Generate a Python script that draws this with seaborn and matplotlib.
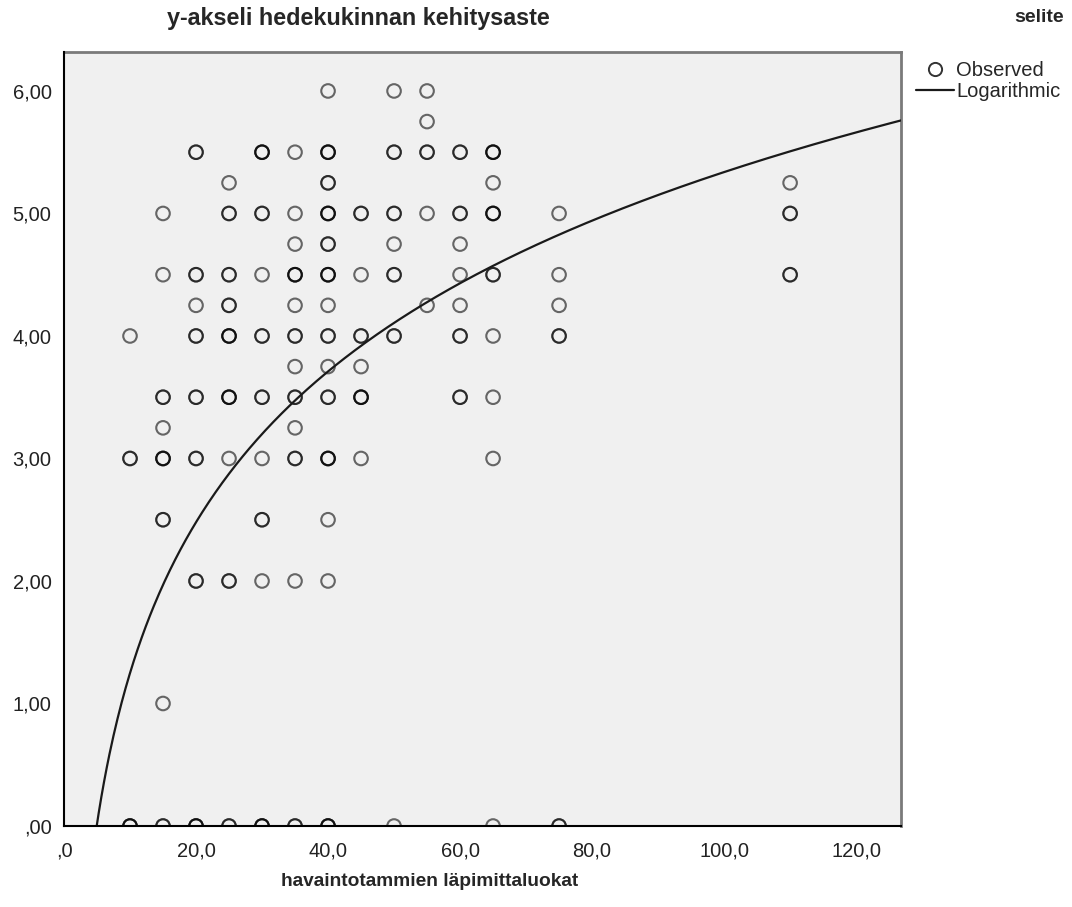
import numpy as np
import pandas as pd
import matplotlib
matplotlib.use("Agg")
import matplotlib.pyplot as plt
from matplotlib.lines import Line2D
import seaborn as sns

# ---------------- data ----------------
# x class, y value, number of overlapping observations (darkness)
obs_x = [
    40, 50, 55,
    55,
    20, 30, 35, 40, 50, 55, 60, 65,
    25, 40, 65,
    15, 25, 30, 35, 40, 45, 50, 55, 60, 65, 75,
    35, 40, 50, 60,
    15, 20, 25, 30, 35, 40, 45, 50, 60, 65, 75,
    20, 25, 35, 40, 55, 60, 75,
    10, 20, 25, 30, 35, 40, 45, 50, 60, 65, 75,
    35, 40, 45,
    15, 20, 25, 30, 35, 40, 45, 60, 65,
    15, 35,
    10, 15, 20, 25, 30, 35, 40, 45, 65,
    15, 30, 40,
    20, 25, 30, 35, 40,
    15,
    10, 15, 20, 25, 30, 35, 40, 50, 65, 75,
    110, 110, 110,
]
obs_y = [
    6.0, 6.0, 6.0,
    5.75,
    5.5, 5.5, 5.5, 5.5, 5.5, 5.5, 5.5, 5.5,
    5.25, 5.25, 5.25,
    5.0, 5.0, 5.0, 5.0, 5.0, 5.0, 5.0, 5.0, 5.0, 5.0, 5.0,
    4.75, 4.75, 4.75, 4.75,
    4.5, 4.5, 4.5, 4.5, 4.5, 4.5, 4.5, 4.5, 4.5, 4.5, 4.5,
    4.25, 4.25, 4.25, 4.25, 4.25, 4.25, 4.25,
    4.0, 4.0, 4.0, 4.0, 4.0, 4.0, 4.0, 4.0, 4.0, 4.0, 4.0,
    3.75, 3.75, 3.75,
    3.5, 3.5, 3.5, 3.5, 3.5, 3.5, 3.5, 3.5, 3.5,
    3.25, 3.25,
    3.0, 3.0, 3.0, 3.0, 3.0, 3.0, 3.0, 3.0, 3.0,
    2.5, 2.5, 2.5,
    2.0, 2.0, 2.0, 2.0, 2.0,
    1.0,
    0.0, 0.0, 0.0, 0.0, 0.0, 0.0, 0.0, 0.0, 0.0, 0.0,
    5.25, 5.0, 4.5,
]
obs_n = [
    1, 1, 1,
    1,
    2, 3, 1, 3, 2, 2, 2, 3,
    1, 2, 1,
    1, 2, 2, 1, 3, 2, 2, 1, 2, 3, 1,
    1, 2, 1, 1,
    1, 2, 2, 1, 3, 3, 1, 2, 1, 2, 1,
    1, 2, 1, 1, 1, 1, 1,
    1, 2, 3, 2, 2, 2, 2, 2, 2, 1, 2,
    1, 1, 1,
    2, 2, 3, 2, 2, 2, 3, 2, 1,
    1, 1,
    2, 3, 2, 1, 1, 2, 3, 1, 1,
    2, 2, 1,
    2, 2, 1, 1, 1,
    1,
    3, 2, 3, 2, 3, 2, 3, 1, 1, 2,
    1, 2, 2,
]

# logarithmic fit  y = b0 + b1 * ln(x)  (coefficients)
fit_b0 = -2.841
fit_b1 = 1.776

x_ticks = [0, 20, 40, 60, 80, 100, 120]
x_tick_labels = [",0", "20,0", "40,0", "60,0", "80,0", "100,0", "120,0"]
y_ticks = [0, 1, 2, 3, 4, 5, 6]
y_tick_labels = [",00", "1,00", "2,00", "3,00", "4,00", "5,00", "6,00"]

y_title = "y-akseli hedekukinnan kehitysaste"
x_title = "havaintotammien läpimittaluokat"
legend_title = "selite"
legend_labels = ["Observed", "Logarithmic"]

# ---------------- figure ----------------
sns.set_style("white")
plt.rcParams["font.family"] = ["Liberation Sans", "DejaVu Sans"]
bold_family = ["Liberation Sans Narrow", "Liberation Sans", "DejaVu Sans"]

W, H = 1072, 907
fig = plt.figure(figsize=(W / 100, H / 100), dpi=100)
L, R, T, B = 64, 901, 52, 826
ax = fig.add_axes([L / W, 1 - B / H, (R - L) / W, (B - T) / H])
ax.set_facecolor("#F0F0F0")

df = pd.DataFrame({"x": obs_x, "y": obs_y, "n": obs_n})
df = df.loc[df.index.repeat(df["n"])].reset_index(drop=True)

sns.scatterplot(data=df, x="x", y="y", ax=ax, marker="o", s=95,
                facecolor="none", edgecolor=(0, 0, 0, 0.58), linewidth=1.5,
                legend=False, zorder=3)

xmin, xmax = 0, 126.8
ymin, ymax = 0, 6.318
xc = np.linspace(np.exp(-fit_b0 / fit_b1) * 0.98, xmax, 600)
yc = fit_b0 + fit_b1 * np.log(xc)
sns.lineplot(x=xc, y=yc, ax=ax, color="#1a1a1a", linewidth=1.6,
             sort=False, estimator=None, zorder=4)

ax.set_xlim(xmin, xmax)
ax.set_ylim(ymin, ymax)
ax.set_xticks(x_ticks)
ax.set_xticklabels(x_tick_labels)
ax.set_yticks(y_ticks)
ax.set_yticklabels(y_tick_labels)
ax.set_xlabel("")
ax.set_ylabel("")
ax.tick_params(axis="both", direction="out", length=8, width=1.5,
               color="black", labelsize=14.5, labelcolor="#222222", pad=1)
ax.tick_params(axis="x", pad=3)

for side in ["left", "bottom"]:
    ax.spines[side].set_color("black")
    ax.spines[side].set_linewidth(1.5)
    ax.spines[side].set_zorder(5)
for side in ["top", "right"]:
    ax.spines[side].set_color("#7a7a7a")
    ax.spines[side].set_linewidth(2.0)

fig.text(358 / W, 1 - 18 / H, y_title, ha="center", va="center",
         fontsize=16.8, fontweight="bold", family=bold_family)
fig.text(430 / W, 1 - 882 / H, x_title, ha="center", va="center",
         fontsize=13.8, fontweight="bold", family=bold_family)
fig.text(1039 / W, 1 - 18 / H, legend_title, ha="center", va="center",
         fontsize=14, fontweight="bold", family=bold_family)

handles = [
    Line2D([], [], marker="o", linestyle="none", markerfacecolor="none",
           markeredgecolor="#333333", markeredgewidth=1.4, markersize=9.5),
    Line2D([], [], color="#1a1a1a", linewidth=1.6),
]
fig.legend(handles, legend_labels, loc="upper left",
           bbox_to_anchor=(916 / W, 1 - 61 / H), frameon=False,
           fontsize=14.5, handlelength=1.9, handletextpad=0.1,
           labelspacing=0.12, borderpad=0, borderaxespad=0)

fig.savefig("out.png", dpi=100, facecolor="white")
